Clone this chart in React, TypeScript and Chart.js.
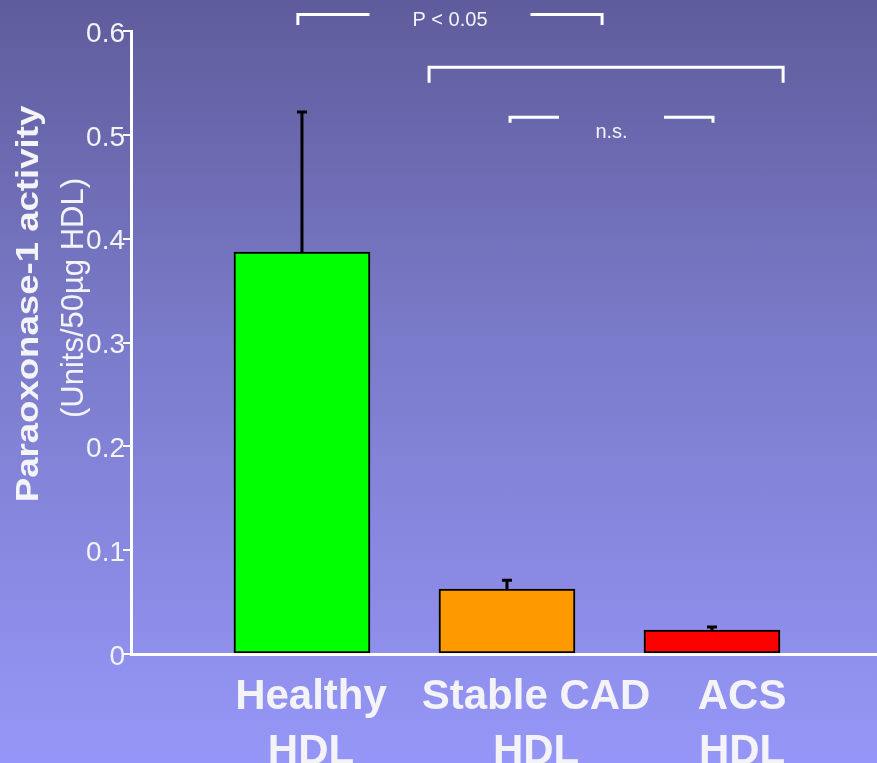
import React, { useEffect, useRef } from "react";
import { Chart, registerables } from "chart.js";

Chart.register(...registerables);

const categoryLines: string[][] = [
  ["Healthy", "HDL"],
  ["Stable CAD", "HDL"],
  ["ACS", "HDL"],
];
const barPositions = [1, 2, 3];
const labelPositions = [1.044, 2.142, 3.147];
const activity = [0.387, 0.0625, 0.023];
const errors = [0.136, 0.0095, 0.004];
const barColors = ["#00FF00", "#FF9900", "#FF0000"];
const yTickValues = [0, 0.1, 0.2, 0.3, 0.4, 0.5, 0.6];

const bracketStart = [0.98, 1.62, 2.015];
const bracketEnd = [2.464, 3.347, 3.005];
const bracketLevel = [0.616, 0.565, 0.517];
const bracketLabels = ["P < 0.05", "", "n.s."];
const bracketDrop = [9, 14, 4];
const bracketGapHalf = [82, 0, 54];
const bracketLabelDy = [6, 0, 15];

const yTitle = "Paraoxonase-1 activity";
const ySubTitle = "(Units/50\u00b5g HDL)";

const FONT = "'Liberation Sans', Arial, Helvetica, sans-serif";
const WHITE = "#f4f4f8";

const overlayPlugin = {
  id: "overlay",
  afterDatasetsDraw(chart: any) {
    const ctx = chart.ctx as CanvasRenderingContext2D;
    const xs = chart.scales.x;
    const ys = chart.scales.y;
    ctx.save();
    // error bars
    ctx.strokeStyle = "#000";
    ctx.lineWidth = 3;
    ctx.lineCap = "butt";
    barPositions.forEach((p, i) => {
      const x = xs.getPixelForValue(p);
      const y0 = ys.getPixelForValue(activity[i]);
      const y1 = ys.getPixelForValue(activity[i] + errors[i]);
      ctx.beginPath();
      ctx.moveTo(x, y0);
      ctx.lineTo(x, y1);
      ctx.moveTo(x - 5, y1 + 1);
      ctx.lineTo(x + 5, y1 + 1);
      ctx.stroke();
    });
    // significance brackets
    ctx.strokeStyle = "#ffffff";
    ctx.lineWidth = 3;
    ctx.lineCap = "square";
    ctx.fillStyle = WHITE;
    ctx.font = `20px ${FONT}`;
    ctx.textAlign = "center";
    ctx.textBaseline = "middle";
    bracketStart.forEach((s, i) => {
      const xa = xs.getPixelForValue(s);
      const xb = xs.getPixelForValue(bracketEnd[i]);
      const y = ys.getPixelForValue(bracketLevel[i]);
      const mid = (xa + xb) / 2;
      const g = bracketGapHalf[i];
      ctx.beginPath();
      ctx.moveTo(xa, y + bracketDrop[i]);
      ctx.lineTo(xa, y);
      if (g > 0) {
        ctx.lineTo(mid - g, y);
        ctx.moveTo(mid + g, y);
      }
      ctx.lineTo(xb, y);
      ctx.lineTo(xb, y + bracketDrop[i]);
      ctx.stroke();
      if (bracketLabels[i]) {
        ctx.fillText(bracketLabels[i], mid, y + bracketLabelDy[i]);
      }
    });
    ctx.restore();
  },
  afterDraw(chart: any) {
    const ctx = chart.ctx as CanvasRenderingContext2D;
    ctx.save();
    ctx.fillStyle = WHITE;
    ctx.textAlign = "center";
    ctx.textBaseline = "middle";
    ctx.translate(29, 304);
    ctx.rotate(-Math.PI / 2);
    ctx.scale(1.18, 1);
    ctx.font = `bold 31px ${FONT}`;
    ctx.fillText(yTitle, 0, 0);
    ctx.restore();
    ctx.save();
    ctx.fillStyle = WHITE;
    ctx.textAlign = "center";
    ctx.textBaseline = "middle";
    ctx.translate(74, 298);
    ctx.rotate(-Math.PI / 2);
    ctx.font = `31px ${FONT}`;
    ctx.fillText(ySubTitle, 0, 0);
    ctx.restore();
  },
};

export default function App() {
  const ref = useRef<HTMLCanvasElement | null>(null);
  useEffect(() => {
    document.body.style.margin = "0";
    if (!ref.current) return;
    const chart = new Chart(ref.current, {
      type: "bar",
      data: {
        datasets: [
          {
            data: barPositions.map((p, i) => ({ x: p, y: activity[i] })),
            backgroundColor: barColors,
            borderColor: "#000000",
            borderWidth: 2,
            borderSkipped: false,
            barThickness: 136,
          } as any,
        ],
      },
      options: {
        animation: false,
        responsive: false,
        events: [],
        layout: { padding: { top: 31, left: 0, right: 0, bottom: 0 } },
        plugins: {
          legend: { display: false },
          tooltip: { enabled: false },
          title: { display: false },
        },
        scales: {
          x: {
            type: "linear",
            offset: false,
            bounds: "ticks",
            min: 0.166,
            max: 3.805,
            grid: { display: false, offset: false },
            border: { display: true, color: "#ffffff", width: 3 },
            afterBuildTicks: (scale: any) => {
              scale.ticks = labelPositions.map((v) => ({ value: v }));
            },
            afterFit: (scale: any) => {
              scale.height = 109;
            },
            ticks: {
              autoSkip: false,
              maxRotation: 0,
              minRotation: 0,
              padding: 8,
              color: WHITE,
              font: { family: FONT, size: 42, weight: "bold", lineHeight: 1.31 },
              callback: (_v: any, index: number) => categoryLines[index],
            },
          },
          y: {
            type: "linear",
            min: 0,
            max: 0.6,
            afterBuildTicks: (scale: any) => {
              scale.ticks = yTickValues.map((v) => ({ value: v }));
            },
            afterFit: (scale: any) => {
              scale.width = 131;
            },
            grid: {
              display: true,
              drawOnChartArea: false,
              drawTicks: true,
              tickLength: 8,
              color: "#ffffff",
              lineWidth: 2,
            },
            border: { display: true, color: "#ffffff", width: 3 },
            ticks: {
              padding: -2,
              labelOffset: 3,
              color: WHITE,
              font: { family: FONT, size: 28 },
              callback: (v: any) => (Number(v) === 0 ? "0" : Number(v).toFixed(1)),
            },
          },
        },
      },
      plugins: [overlayPlugin],
    } as any);
    return () => chart.destroy();
  }, []);
  return (
    <div
      style={{
        width: 877,
        height: 763,
        background: "linear-gradient(to bottom, #5e5c9b 0%, #7b7bcb 45%, #9696f8 100%)",
        overflow: "hidden",
      }}
    >
      <canvas ref={ref} width={877} height={763} style={{ display: "block" }} />
    </div>
  );
}
